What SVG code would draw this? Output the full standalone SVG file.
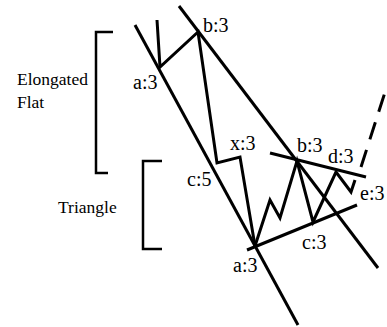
<svg xmlns="http://www.w3.org/2000/svg" width="387" height="327" viewBox="0 0 387 327">
<style>
.ln{fill:none;stroke:#000;stroke-width:3;stroke-linejoin:miter;stroke-linecap:butt}
.br{fill:none;stroke:#000;stroke-width:2.5}
.lbl{font-family:"Liberation Serif","Times New Roman",serif;font-size:20px;fill:#000}
.ttl{font-family:"Liberation Serif","Times New Roman",serif;font-size:17.5px;fill:#000}
</style>
<rect width="387" height="327" fill="#fff"/>
<g id="connectors">
<line class="ln" x1="135" y1="25" x2="298" y2="325"/>
<line class="ln" x1="179" y1="6" x2="378" y2="268"/>
<line class="ln" x1="270" y1="153" x2="366" y2="177"/>
<line class="ln" x1="247" y1="250" x2="357" y2="205"/>
<polyline class="ln" points="157,20 160,67 198,32 217,163 240,157 255,246"/>
<polyline class="ln" points="255,246 270,200 280,218 297,161 313,222 336,172 351,192 355,180"/>
<line class="ln" x1="361" y1="167" x2="387" y2="86" stroke-dasharray="18 11"/>
</g>
<g id="bracket-elongated-flat">
<path class="br" d="M113,32 H96 V173 H108"/>
<text class="ttl" x="17" y="85">Elongated</text>
<text class="ttl" x="17" y="108">Flat</text>
</g>
<g id="bracket-triangle">
<path class="br" d="M162,161 H143 V249 H162"/>
<text class="ttl" x="58" y="213">Triangle</text>
</g>
<g id="labels">
<text class="lbl" x="133" y="89">a:3</text>
<text class="lbl" x="203" y="32">b:3</text>
<text class="lbl" x="230" y="150">x:3</text>
<text class="lbl" x="297" y="152">b:3</text>
<text class="lbl" x="328" y="163">d:3</text>
<text class="lbl" x="360" y="200">e:3</text>
<text class="lbl" x="187" y="186">c:5</text>
<text class="lbl" x="302" y="249">c:3</text>
<text class="lbl" x="233" y="272">a:3</text>
</g>
</svg>
